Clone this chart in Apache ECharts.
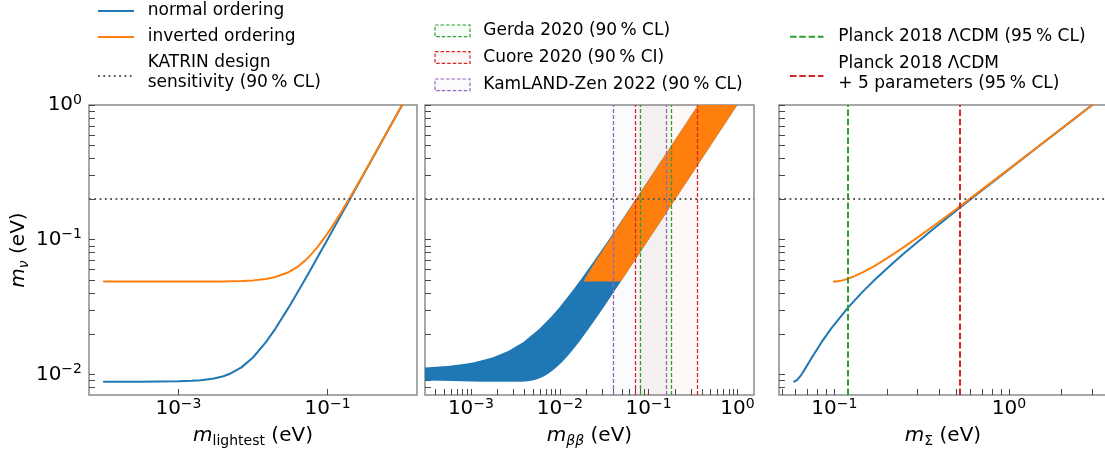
<!DOCTYPE html>
<html>
<head>
<meta charset="utf-8">
<script src="https://cdn.jsdelivr.net/npm/echarts@6/dist/echarts.min.js"></script>
<style>
  html, body { margin: 0; padding: 0; background: #fff; }
  #chart { width: 1105px; height: 454px; }
</style>
</head>
<body>
<div id="chart"></div>
<script>
// ---------------------------------------------------------------------------
// Effective electron-neutrino mass m_nu versus m_lightest, m_bb and m_Sigma
// for normal and inverted mass ordering.
// ---------------------------------------------------------------------------

// Lightest neutrino mass grid (eV)
const mLightest = [0.0001, 0.0003, 0.001, 0.0015, 0.002, 0.003, 0.004, 0.005, 0.007, 0.01,
  0.015, 0.02, 0.03, 0.04, 0.05, 0.06, 0.07, 0.08, 0.1, 0.12, 0.15, 0.2, 0.3, 0.5, 0.7, 1.0];

// m_nu (eV) on that grid
const mNuNormal = [0.00882, 0.00882, 0.00888, 0.00895, 0.00904, 0.00932, 0.00968, 0.01014, 0.01126, 0.01333,
  0.01740, 0.02186, 0.03127, 0.04096, 0.05077, 0.06065, 0.07055, 0.08049, 0.1004, 0.1203, 0.1503, 0.2002, 0.3001, 0.5001, 0.7001, 1.0000];
const mNuInverted = [0.04883, 0.04883, 0.04884, 0.04885, 0.04887, 0.04892, 0.04899, 0.04908, 0.04933, 0.04984,
  0.05108, 0.05276, 0.05731, 0.06312, 0.06989, 0.07736, 0.08535, 0.09372, 0.1113, 0.1296, 0.1577, 0.2059, 0.3039, 0.5024, 0.7017, 1.0012];

// Sum of neutrino masses m_Sigma (eV) on the same grid
const mSumNormal = [0.05882, 0.05902, 0.05978, 0.06037, 0.06098, 0.06231, 0.06376, 0.06531, 0.06869, 0.07429,
  0.08459, 0.09572, 0.1196, 0.1450, 0.1715, 0.1988, 0.2266, 0.2549, 0.3122, 0.3703, 0.4584, 0.6064, 0.9043, 1.5026, 2.1018, 3.0013];
const mSumInverted = [0.09915, 0.09935, 0.10007, 0.10060, 0.10113, 0.10223, 0.10337, 0.10455, 0.10704, 0.11105,
  0.11850, 0.12682, 0.14581, 0.16732, 0.19075, 0.2156, 0.2415, 0.2682, 0.3232, 0.3796, 0.4659, 0.6121, 0.9081, 1.5049, 2.1035, 3.0025];

// Allowed band in the (m_bb, m_nu) plane: [m_bb, m_nu] along the upper and lower m_bb edge.
// 1e-5 stands for m_bb = 0 (full cancellation), which lies off the left of the axis.
const normalBandMax = [[0.00374, 0.00882], [0.00437, 0.00888], [0.00473, 0.00895], [0.00510, 0.00904],
  [0.00587, 0.00932], [0.00666, 0.00968], [0.00748, 0.01014], [0.00832, 0.01067], [0.00919, 0.01126],
  [0.01051, 0.01225], [0.01186, 0.01333], [0.01370, 0.01489], [0.01651, 0.01740], [0.02128, 0.02186],
  [0.02612, 0.02651], [0.03099, 0.03127], [0.04081, 0.04096], [0.05068, 0.05077], [0.07051, 0.07055],
  [0.1004, 0.1004], [0.2002, 0.2002], [0.5001, 0.5001], [1.000, 1.000]];
const normalBandMin = [[0.00138, 0.00882], [0.00079, 0.00888], [0.00047, 0.00895], [0.00016, 0.00904],
  [1e-5, 0.00909], [1e-5, 0.01086], [0.00014, 0.01102], [0.00034, 0.01126], [0.00058, 0.01158],
  [0.00082, 0.01191], [0.00106, 0.01225], [0.00175, 0.01333], [0.00263, 0.01489], [0.00390, 0.01740],
  [0.00594, 0.02186], [0.00791, 0.02651], [0.00984, 0.03127], [0.01363, 0.04096], [0.01737, 0.05077],
  [0.02476, 0.07055], [0.03573, 0.1004], [0.05390, 0.1503], [0.0720, 0.2002], [0.1804, 0.5001], [0.3610, 1.000]];
const invertedBandMax = [[0.04828, 0.04883], [0.04949, 0.04984], [0.05254, 0.05276], [0.05716, 0.05731],
  [0.06982, 0.06989], [0.08532, 0.08535], [0.1113, 0.1113], [0.1577, 0.1577], [0.2059, 0.2059],
  [0.3039, 0.3039], [0.5024, 0.5024], [1.0012, 1.0012]];
const invertedBandMin = [[0.01861, 0.04883], [0.01878, 0.04984], [0.01968, 0.05276], [0.02121, 0.05731],
  [0.02560, 0.06989], [0.03109, 0.08535], [0.04038, 0.1113], [0.05709, 0.1577], [0.07443, 0.2059],
  [0.1098, 0.3039], [0.1814, 0.5024], [0.3615, 1.0012]];

// Experimental limits (eV)
const katrinSensitivity = 0.2;
const gerda2020 = [0.079, 0.180];
const cuore2020 = [0.075, 0.350];
const kamlandZen2022 = [0.036, 0.156];
const planckLCDM = 0.12;
const planckExtended = 0.52;

// Axis ranges and tick values
const yRange = [0.00702, 1];
const x1Range = [6.31e-5, 1.585];
const x2Range = [3.04e-4, 1.538];
const x3Range = [0.04813, 3.652];
const yMajor = [0.01, 0.1, 1];
const yMinor = [0.008, 0.009, 0.02, 0.03, 0.04, 0.05, 0.06, 0.07, 0.08, 0.09, 0.2, 0.3, 0.4, 0.5, 0.6, 0.7, 0.8, 0.9];
const x1Major = [0.001, 0.1];
const x1Minor = [];
const x2Major = [0.001, 0.01, 0.1, 1];
const x2Minor = [0.0004, 0.0005, 0.0006, 0.0007, 0.0008, 0.0009, 0.002, 0.003, 0.004, 0.005, 0.006, 0.007, 0.008, 0.009,
  0.02, 0.03, 0.04, 0.05, 0.06, 0.07, 0.08, 0.09, 0.2, 0.3, 0.4, 0.5, 0.6, 0.7, 0.8, 0.9];
const x3Major = [0.1, 1];
const x3Minor = [0.05, 0.06, 0.07, 0.08, 0.09, 0.2, 0.3, 0.4, 0.5, 0.6, 0.7, 0.8, 0.9, 2, 3];

// Legend texts
const orderingLabels = ['normal ordering', 'inverted ordering', 'KATRIN design\nsensitivity (90\u2009% CL)'];
const onbbLabels = ['Gerda 2020 (90\u2009% CL)', 'Cuore 2020 (90\u2009% CI)', 'KamLAND-Zen 2022 (90\u2009% CL)'];
const cosmoLabels = ['Planck 2018 \u039bCDM (95\u2009% CL)', 'Planck 2018 \u039bCDM\n+ 5 parameters (95\u2009% CL)'];

// ---------------------------------------------------------------------------
const FONT = 'DejaVu Sans';
const COL = { blue: '#1f77b4', orange: '#ff7f0e', green: '#2ca02c', red: '#d62728', purple: '#9467bd', dots: '#5a5a5a' };
const SPINE = '#8a8a8a';
const TICK = '#474747';
const TICK_LEN = 6;
const PANEL_W = [328, 329, 328], PANEL_H = 290;

function powerLabel(v) {
  const e = Math.round(Math.log10(v));
  return '{b|10}{s|' + (e < 0 ? '\u2212' + (-e) : String(e)) + '}';
}
function labelRich() {
  return {
    b: { fontFamily: FONT, fontSize: 20, lineHeight: 24, color: '#000' },
    s: { fontFamily: FONT, fontSize: 14, lineHeight: 14, verticalAlign: 'top', color: '#000' }
  };
}
function nameRich() {
  return {
    i: { fontFamily: FONT, fontSize: 20, fontStyle: 'italic', lineHeight: 24, color: '#000' },
    sub: { fontFamily: FONT, fontSize: 14, lineHeight: 12, verticalAlign: 'bottom', color: '#000' },
    subi: { fontFamily: FONT, fontSize: 14, fontStyle: 'italic', lineHeight: 12, verticalAlign: 'bottom', color: '#000' },
    t: { fontFamily: FONT, fontSize: 20, lineHeight: 24, color: '#000' }
  };
}

// Log axis with inward ticks at every decade multiple and labels at the listed powers of ten
function logAxis(kind, gridIndex, range, major, minor, showLabels, title, nameGap) {
  const tickValues = major.concat(minor).sort((a, b) => a - b);
  const ax = {
    type: 'log', gridIndex, position: kind === 'x' ? 'bottom' : 'left', min: range[0], max: range[1],
    axisLine: { show: false }, splitLine: { show: false }, minorTick: { show: false },
    axisTick: { show: true, inside: true, length: TICK_LEN, customValues: tickValues, lineStyle: { color: TICK, width: 1 } },
    axisLabel: {
      show: showLabels, customValues: major, formatter: powerLabel,
      margin: kind === 'x' ? 2 : 7, rich: labelRich()
    }
  };
  if (title) {
    Object.assign(ax, {
      name: title, nameLocation: 'middle', nameGap, nameMoveOverlap: false,
      nameTextStyle: { fontFamily: FONT, fontSize: 20, color: '#000', rich: nameRich() }
    });
  }
  return ax;
}

const xAxes = [
  logAxis('x', 0, x1Range, x1Major, x1Minor, true, '{i|m}{sub|lightest}{t| (eV)}', 29),
  logAxis('x', 1, x2Range, x2Major, x2Minor, true, '{i|m}{subi|\u03b2\u03b2}{t| (eV)}', 29),
  logAxis('x', 2, x3Range, x3Major, x3Minor, true, '{i|m}{sub|\u03a3}{t| (eV)}', 29)
];
const yAxes = [
  logAxis('y', 0, yRange, yMajor, yMinor, true, '{i|m}{subi|\u03bd}{t| (eV)}', 58),
  logAxis('y', 1, yRange, yMajor, yMinor, false, null, 0),
  logAxis('y', 2, yRange, yMajor, yMinor, false, null, 0)
];

function pairs(xs, ys) { return xs.map((x, i) => [x, ys[i]]); }

function curve(name, panel, xs, ys, color) {
  return {
    type: 'line', name, xAxisIndex: panel, yAxisIndex: panel,
    data: pairs(xs, ys), showSymbol: false, symbol: 'none',
    smooth: false, clip: true, z: 4,
    lineStyle: { color, width: 2, join: 'round', cap: 'round' }, itemStyle: { color }
  };
}

function band(name, panel, upper, lower, color) {
  const outline = upper.concat(lower.slice().reverse());
  return {
    type: 'custom', name, xAxisIndex: panel, yAxisIndex: panel,
    data: [outline.length], clip: true, silent: true, z: 2,
    renderItem: function (params, api) {
      return {
        type: 'polygon',
        shape: { points: outline.map(p => api.coord(p)) },
        style: { fill: color, stroke: null }
      };
    }
  };
}

function markers(panel, lines, areas, z) {
  const s = {
    type: 'line', name: 'limits-' + panel, xAxisIndex: panel, yAxisIndex: panel,
    data: [], silent: true, z
  };
  if (lines) {
    s.markLine = { silent: true, symbol: ['none', 'none'], label: { show: false }, animation: false, data: lines };
  }
  if (areas) {
    s.markArea = { silent: true, label: { show: false }, animation: false, data: areas };
  }
  return s;
}

const katrinLine = { yAxis: katrinSensitivity, lineStyle: { color: COL.dots, width: 1.8, type: [1.8, 3.5] } };
function dashedV(x, color, width, dash) { return { xAxis: x, lineStyle: { color, width, type: dash } }; }
function span(r, rgb, alpha) {
  return [{ xAxis: r[0], itemStyle: { color: 'rgba(' + rgb + ',' + alpha + ')' } }, { xAxis: r[1] }];
}

const series = [
  // m_nu vs m_lightest
  markers(0, [katrinLine], null, 3),
  curve('normal ordering', 0, mLightest, mNuNormal, COL.blue),
  curve('inverted ordering', 0, mLightest, mNuInverted, COL.orange),

  // m_nu vs m_bb
  markers(1, null, [
    span(kamlandZen2022, '148,103,189', 0.035),
    span(cuore2020, '214,39,40', 0.03),
    span(gerda2020, '44,160,44', 0.03)
  ], 1),
  band('normal ordering', 1, normalBandMax, normalBandMin, COL.blue),
  band('inverted ordering', 1, invertedBandMax, invertedBandMin, COL.orange),
  markers(1, [
    dashedV(kamlandZen2022[0], COL.purple, 1.3, [4, 2]), dashedV(kamlandZen2022[1], COL.purple, 1.3, [4, 2]),
    dashedV(cuore2020[0], COL.red, 1.3, [4, 2]), dashedV(cuore2020[1], COL.red, 1.3, [4, 2]),
    dashedV(gerda2020[0], COL.green, 1.3, [4, 2]), dashedV(gerda2020[1], COL.green, 1.3, [4, 2]),
    katrinLine
  ], null, 5),

  // m_nu vs m_Sigma
  curve('normal ordering', 2, mSumNormal, mNuNormal, COL.blue),
  curve('inverted ordering', 2, mSumInverted, mNuInverted, COL.orange),
  markers(2, [
    dashedV(planckLCDM, COL.green, 2, [6.5, 2.8]),
    dashedV(planckExtended, COL.red, 2, [6.5, 2.8]),
    katrinLine
  ], null, 5)
];

// Legends drawn as graphic elements above each panel
const legendText = { fontFamily: FONT, fontSize: 17, fill: '#000', align: 'left', verticalAlign: 'middle', lineHeight: 20 };
function txt(x, y, s) { return { type: 'text', x, y, silent: true, style: Object.assign({ text: s }, legendText) }; }
function hline(x1, x2, y, color, width, dash) {
  return { type: 'line', silent: true, shape: { x1, y1: y, x2, y2: y }, style: { stroke: color, lineWidth: width, lineDash: dash || null } };
}
function patch(x, y, w, h, color, rgb) {
  return { type: 'rect', silent: true, shape: { x, y, width: w, height: h },
    style: { fill: 'rgba(' + rgb + ',0.035)', stroke: color, lineWidth: 1.2, lineDash: [3.5, 2] } };
}

const legendGraphic = [
  hline(98, 134, 11, COL.blue, 2), txt(147.7, 11, orderingLabels[0]),
  hline(98, 134, 37, COL.orange, 2), txt(147.7, 37, orderingLabels[1]),
  hline(98, 134, 76, COL.dots, 1.8, [1.8, 3.5]), txt(147.7, 73, orderingLabels[2]),

  patch(435, 25, 35, 11.7, COL.green, '44,160,44'), txt(483.3, 30.5, onbbLabels[0]),
  patch(435, 51.7, 35, 11.7, COL.red, '214,39,40'), txt(483.3, 57.3, onbbLabels[1]),
  patch(435, 79, 35, 11.7, COL.purple, '148,103,189'), txt(483.3, 84.3, onbbLabels[2]),

  hline(790, 823.5, 36.7, COL.green, 2, [6.5, 2.8]), txt(838.3, 36.7, cosmoLabels[0]),
  hline(790, 823.5, 76, COL.red, 2, [6.5, 2.8]), txt(838.3, 73.3, cosmoLabels[1])
];

const gridBase = { top: 105, height: PANEL_H, show: true, borderColor: SPINE, borderWidth: 1.5, backgroundColor: 'transparent', containLabel: false, outerBoundsMode: 'none' };

const option = {
  animation: false,
  backgroundColor: '#fff',
  textStyle: { fontFamily: FONT },
  grid: [
    Object.assign({ left: 89, width: PANEL_W[0] }, gridBase),
    Object.assign({ left: 425, width: PANEL_W[1] }, gridBase),
    Object.assign({ left: 779, width: PANEL_W[2] }, gridBase)
  ],
  xAxis: xAxes,
  yAxis: yAxes,
  series,
  graphic: legendGraphic
};

const chart = echarts.init(document.getElementById('chart'), null, { renderer: 'canvas' });
chart.setOption(option);
</script>
</body>
</html>
